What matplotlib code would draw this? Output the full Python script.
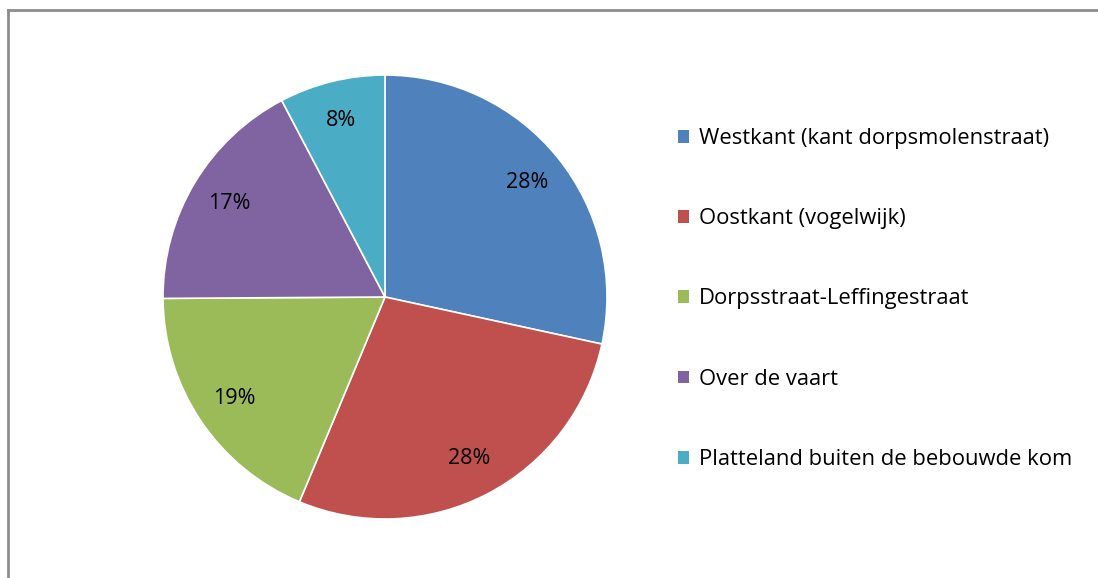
import matplotlib.pyplot as plt
from matplotlib.lines import Line2D
from matplotlib.patches import Patch

# data (shares in %)
labels = ["Westkant (kant dorpsmolenstraat)", "Oostkant (vogelwijk)",
          "Dorpsstraat-Leffingestraat", "Over de vaart",
          "Platteland buiten de bebouwde kom"]
values = [28.4, 27.9, 18.6, 17.4, 7.7]
colors = ["#4F81BD", "#C0504D", "#9BBB59", "#8064A2", "#4BACC6"]

W, H = 1098, 578
fig = plt.figure(figsize=(W / 100, H / 100), dpi=100)

# pie axes: centre (385, 297), radius 222 px
cx, cy, r = 385, 297, 222
ax = fig.add_axes([(cx - r) / W, (H - cy - r) / H, 2 * r / W, 2 * r / H])
wedges, texts, autotexts = ax.pie(
    values, colors=colors, startangle=90, counterclock=False,
    autopct="%.0f%%", pctdistance=0.82,
    wedgeprops=dict(edgecolor="white", linewidth=1.2),
    textprops=dict(fontsize=15.5, family="Open Sans", color="black"))
ax.set_xlim(-1, 1)
ax.set_ylim(-1, 1)
ax.set_aspect("auto")
ax.axis("off")

# legend
handles = [Patch(facecolor=c, edgecolor="none") for c in colors]
fig.legend(handles, labels, loc="upper left", bbox_to_anchor=(667 / W, 1 - 117 / H),
           frameon=False, prop=dict(family="Open Sans", size=15.8),
           handlelength=0.52, handleheight=0.52, handletextpad=0.42,
           labelspacing=2.7, borderpad=0)

# chart border (top and left visible)
fig.add_artist(Line2D([7.5 / W, 1], [1 - 9.5 / H, 1 - 9.5 / H], color="#8c8c8c", lw=2))
fig.add_artist(Line2D([7.5 / W, 7.5 / W], [0, 1 - 9.5 / H], color="#8c8c8c", lw=2))

plt.savefig("out.png", dpi=100)
